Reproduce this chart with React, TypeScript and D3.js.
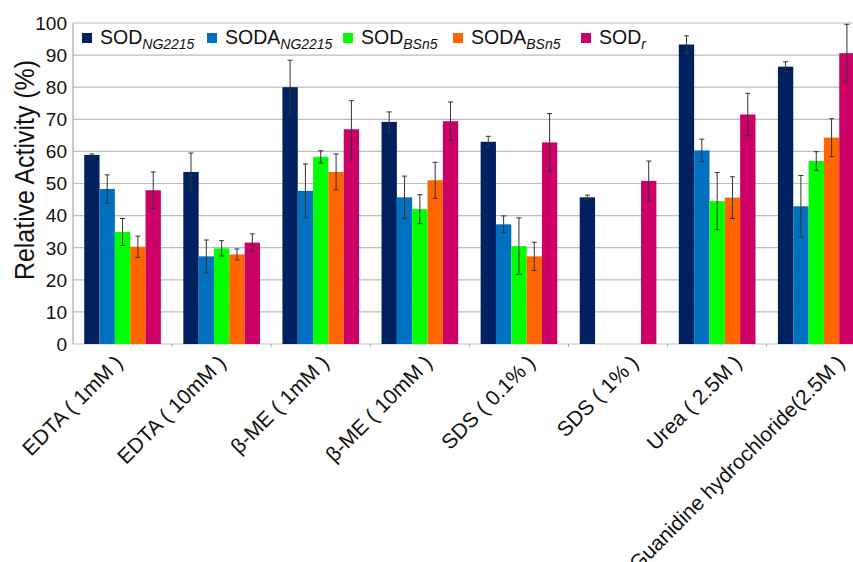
import React, { useEffect, useRef } from "react";
import * as d3 from "d3";

// Treatment conditions along the x axis
const categories = [
  "EDTA ( 1mM )",
  "EDTA ( 10mM )",
  "β-ME ( 1mM )",
  "β-ME ( 10mM )",
  "SDS ( 0.1% )",
  "SDS ( 1% )",
  "Urea ( 2.5M )",
  "Guanidine hydrochloride(2.5M )",
];

// Relative activity (%) and standard deviations per enzyme
const sodNG2215 = [58.9, 53.6, 80.0, 69.2, 63.0, 45.7, 93.3, 86.4];
const sodNG2215Err = [0.3, 5.9, 8.4, 3.1, 1.7, 0.7, 2.7, 1.5];
const sodaNG2215 = [48.3, 27.3, 47.7, 45.7, 37.3, 0, 60.3, 42.9];
const sodaNG2215Err = [4.4, 5.1, 8.4, 6.6, 2.6, 0, 3.5, 9.6];
const sodBSn5 = [34.9, 29.8, 58.3, 42.0, 30.5, 0, 44.5, 57.0];
const sodBSn5Err = [4.2, 2.4, 1.9, 4.5, 8.8, 0, 8.9, 2.9];
const sodaBSn5 = [30.3, 27.9, 53.6, 51.0, 27.3, 0, 45.6, 64.3];
const sodaBSn5Err = [3.3, 1.7, 5.6, 5.6, 4.4, 0, 6.5, 5.9];
const sodR = [47.9, 31.6, 66.9, 69.4, 62.8, 50.8, 71.5, 90.6];
const sodRErr = [5.7, 2.7, 8.9, 6.0, 9.0, 6.2, 6.6, 9.0];

const seriesNames = ["SOD", "SODA", "SOD", "SODA", "SOD"];
const seriesSubs = ["NG2215", "NG2215", "BSn5", "BSn5", "r"];
const seriesColors = ["#002060", "#0070C0", "#00FF00", "#FF6600", "#CC0066"];

const yTicks = [0, 10, 20, 30, 40, 50, 60, 70, 80, 90, 100];

const W = 853;
const H = 562;
const FONT = "'Liberation Sans', Arial, sans-serif";

export default function App() {
  const ref = useRef<SVGSVGElement>(null);

  useEffect(() => {
    const svg = d3.select(ref.current);
    svg.selectAll("*").remove();

    const series = [
      { values: sodNG2215, err: sodNG2215Err },
      { values: sodaNG2215, err: sodaNG2215Err },
      { values: sodBSn5, err: sodBSn5Err },
      { values: sodaBSn5, err: sodaBSn5Err },
      { values: sodR, err: sodRErr },
    ];

    const left = 73;
    const top = 23;
    const bottom = 344;
    const step = 99.1;

    const x = d3
      .scaleBand<string>()
      .domain(categories)
      .range([left, left + step * categories.length])
      .paddingInner(0)
      .paddingOuter(0);
    const barW = 15.33;
    const groupOffset = (x.bandwidth() - barW * series.length) / 2;

    const labelX = d3.scalePoint<string>().domain(categories).range([124, 846]);

    const y = d3.scaleLinear().domain([0, 100]).range([bottom, top]);

    // gridlines
    svg
      .append("g")
      .selectAll("line")
      .data(yTicks)
      .join("line")
      .attr("x1", left)
      .attr("x2", W)
      .attr("y1", (d) => y(d))
      .attr("y2", (d) => y(d))
      .attr("stroke", "#bdbdbd")
      .attr("stroke-width", 1.2);

    // left axis line
    svg
      .append("line")
      .attr("x1", left)
      .attr("x2", left)
      .attr("y1", y(100))
      .attr("y2", y(0))
      .attr("stroke", "#a8a8a8")
      .attr("stroke-width", 1.2);

    // category boundary ticks
    svg
      .append("g")
      .selectAll("line")
      .data(categories.slice(1))
      .join("line")
      .attr("x1", (d) => x(d)!)
      .attr("x2", (d) => x(d)!)
      .attr("y1", bottom)
      .attr("y2", bottom + 3)
      .attr("stroke", "#a8a8a8");

    // y tick labels
    svg
      .append("g")
      .selectAll("text")
      .data(yTicks)
      .join("text")
      .attr("x", 67)
      .attr("y", (d) => y(d))
      .attr("dy", "0.36em")
      .attr("text-anchor", "end")
      .attr("font-family", FONT)
      .attr("font-size", 19)
      .attr("fill", "#111")
      .text((d) => d);

    // y axis title
    svg
      .append("text")
      .attr("transform", `translate(34, 170) rotate(-90)`)
      .attr("text-anchor", "middle")
      .attr("font-family", FONT)
      .attr("font-size", 27)
      .attr("textLength", 220)
      .attr("lengthAdjust", "spacingAndGlyphs")
      .attr("fill", "#111")
      .text("Relative Activity (%)");

    // bars
    series.forEach((s, si) => {
      const g = svg.append("g");
      g.selectAll("rect")
        .data(categories.map((c, i) => ({ c, v: s.values[i] })))
        .join("rect")
        .attr("x", (d) => x(d.c)! + groupOffset + si * barW)
        .attr("width", barW)
        .attr("y", (d) => y(d.v))
        .attr("height", (d) => y(0) - y(d.v))
        .attr("fill", seriesColors[si]);
    });

    // error bars
    series.forEach((s, si) => {
      const g = svg.append("g").attr("stroke", "#333").attr("stroke-width", 1);
      categories.forEach((c, i) => {
        const v = s.values[i];
        const e = s.err[i];
        if (v <= 0 || e <= 0) return;
        const cx = x(c)! + groupOffset + si * barW + barW / 2;
        g.append("line").attr("x1", cx).attr("x2", cx).attr("y1", y(v + e)).attr("y2", y(v - e));
        g.append("line").attr("x1", cx - 2.5).attr("x2", cx + 2.5).attr("y1", y(v + e)).attr("y2", y(v + e));
        g.append("line").attr("x1", cx - 2.5).attr("x2", cx + 2.5).attr("y1", y(v - e)).attr("y2", y(v - e));
      });
    });

    // x category labels
    svg
      .append("g")
      .selectAll("text")
      .data(categories)
      .join("text")
      .attr("transform", (d) => `translate(${labelX(d)}, 364) rotate(-45)`)
      .attr("text-anchor", "end")
      .attr("font-family", FONT)
      .attr("font-size", 21)
      .attr("fill", "#111")
      .text((d) => d);

    // legend
    const legendX = [82, 207, 343, 453, 581];
    const lg = svg.append("g");
    seriesNames.forEach((name, i) => {
      lg.append("rect")
        .attr("x", legendX[i])
        .attr("y", 33)
        .attr("width", 10)
        .attr("height", 10)
        .attr("fill", seriesColors[i]);
      const t = lg
        .append("text")
        .attr("x", legendX[i] + 18)
        .attr("y", 44)
        .attr("font-family", FONT)
        .attr("font-size", 19.5)
        .attr("fill", "#111");
      t.append("tspan").text(name);
      t.append("tspan")
        .attr("font-size", 14)
        .attr("font-style", "italic")
        .attr("dy", 5)
        .text(seriesSubs[i]);
    });
  }, []);

  return (
    <svg
      ref={ref}
      width={W}
      height={H}
      style={{ position: "absolute", left: 0, top: 0, background: "#fff" }}
    />
  );
}
